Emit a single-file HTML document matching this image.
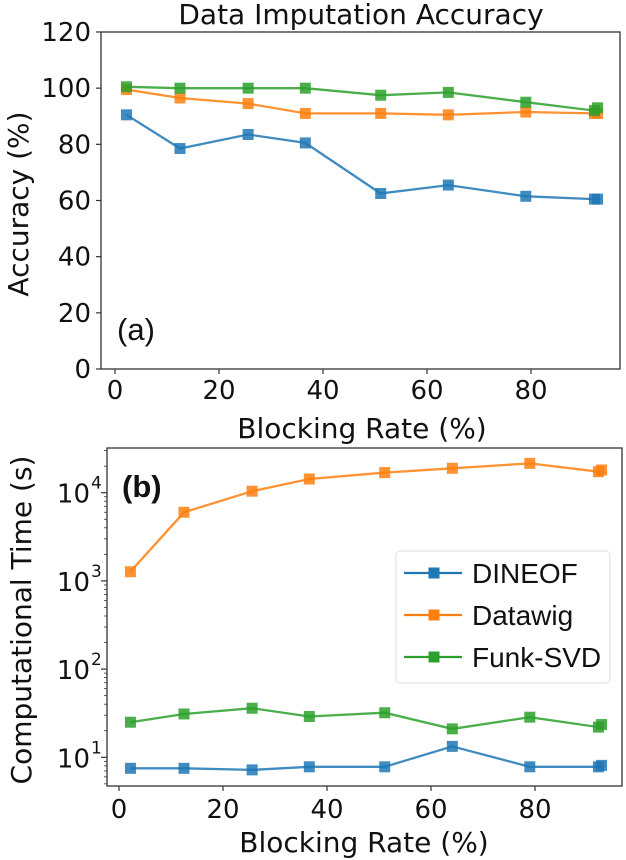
<!DOCTYPE html>
<html><head><meta charset="utf-8"><style>
html,body{margin:0;padding:0;background:#fff;}
svg{display:block;}
text{font-family:"DejaVu Sans","Liberation Sans",sans-serif;fill:#111;}
</style></head><body>
<svg id="chart" width="626" height="860" xmlns="http://www.w3.org/2000/svg"></svg>
<script>
const blockingRates = [2.2, 12.5, 25.6, 36.6, 51.1, 64.1, 79.0, 92.2, 92.8];
const accDineof = [90.5, 78.5, 83.5, 80.5, 62.5, 65.5, 61.5, 60.5, 60.5];
const accDatawig = [99.5, 96.5, 94.5, 91, 91, 90.5, 91.5, 91, 91];
const accFunk = [100.5, 100, 100, 100, 97.5, 98.5, 95, 92, 93];
const timeDineof = [7.5, 7.5, 7.2, 7.8, 7.8, 13.3, 7.8, 7.8, 8.1];
const timeDatawig = [1270, 6000, 10400, 14300, 16900, 18900, 21500, 17300, 18100];
const timeFunk = [25, 31, 36, 29, 32, 21, 28.5, 22, 23.5];
const xTicks = [0, 20, 40, 60, 80];
const accTicks = [0, 20, 40, 60, 80, 100, 120];
const logTicks = [1, 2, 3, 4];
const seriesNames = ["DINEOF", "Datawig", "Funk-SVD"];
const colors = ["#1f77b4", "#ff7f0e", "#2ca02c"];

const NS = "http://www.w3.org/2000/svg";
const svg = document.getElementById("chart");
function mk(tag, attrs, parent) {
  const e = document.createElementNS(NS, tag);
  for (const k in attrs) e.setAttribute(k, attrs[k]);
  (parent || svg).appendChild(e);
  return e;
}
const A = {l:101, r:620, t:32, b:369};
const B = {l:107, r:622, t:448, b:786};
const xA = v => 115 + v * 5.2;
const xB = v => 119 + v * 5.2;
const yA = v => A.b - v * (A.b - A.t) / 120;
const yB = v => 757.3 - (Math.log10(v) - 1) * 88.2;

// ---- Panel A ----
const gA = mk("g", {});


let t = mk("text", {x: 361, y: 24, "font-size": 28, "text-anchor": "middle"}, gA);
t.textContent = "Data Imputation Accuracy";


const frA = mk("rect", {x: A.l, y: A.t, width: A.r - A.l, height: A.b - A.t, fill: "none", stroke: "#333", "stroke-width": 1.3}, gA);


accTicks.forEach(v => {
  mk("line", {x1: A.l - 5, x2: A.l, y1: yA(v), y2: yA(v), stroke: "#333", "stroke-width": 1.2}, gA);
  const tl = mk("text", {x: A.l - 10, y: yA(v) + 9, "font-size": 26, "text-anchor": "end"}, gA);
  tl.textContent = v;
  
  
});
xTicks.forEach(v => {
  mk("line", {x1: xA(v), x2: xA(v), y1: A.b, y2: A.b + 5, stroke: "#333", "stroke-width": 1.2}, gA);
  const tl = mk("text", {x: xA(v), y: 399, "font-size": 26, "text-anchor": "middle"}, gA);
  tl.textContent = v;
  
  
});
t = mk("text", {x: 362, y: 438, "font-size": 28, "text-anchor": "middle"}, gA);
t.textContent = "Blocking Rate (%)";


t = mk("text", {x: 0, y: 0, "font-size": 28, "text-anchor": "middle", transform: "translate(28,204) rotate(-90)"}, gA);
t.textContent = "Accuracy (%)";


t = mk("text", {x: 117, y: 340, "font-size": 31, style: "font-family:'Liberation Sans',sans-serif"}, gA);
t.textContent = "(a)";



function drawSeries(g, xs, ys, xf, yf, color, name) {
  const pts = xs.map((x, i) => xf(x).toFixed(1) + "," + yf(ys[i]).toFixed(1)).join(" ");
  const pl = mk("polyline", {points: pts, fill: "none", stroke: color, "stroke-width": 2.3, "stroke-opacity": 0.85}, g);
  
  
  xs.forEach((x, i) => {
    const m = mk("rect", {x: xf(x) - 5.5, y: yf(ys[i]) - 5.5, width: 11, height: 11, fill: color, "fill-opacity": 0.85}, g);
    
    
  });
}
drawSeries(gA, blockingRates, accDineof, xA, yA, colors[0], "dineof-accuracy");
drawSeries(gA, blockingRates, accDatawig, xA, yA, colors[1], "datawig-accuracy");
drawSeries(gA, blockingRates, accFunk, xA, yA, colors[2], "funk-svd-accuracy");

// ---- Panel B ----
const gB = mk("g", {});


const frB = mk("rect", {x: B.l, y: B.t, width: B.r - B.l, height: B.b - B.t, fill: "none", stroke: "#333", "stroke-width": 1.3}, gB);


for (let d = 0; d <= 4; d++) {
  for (let m = 1; m <= 9; m++) {
    const v = m * Math.pow(10, d);
    const y = yB(v);
    if (y < B.t || y > B.b) continue;
    const major = m === 1;
    mk("line", {x1: B.l - (major ? 6 : 3), x2: B.l, y1: y, y2: y, stroke: "#333", "stroke-width": major ? 1.2 : 0.8}, gB);
  }
}
logTicks.forEach(p => {
  const y = yB(Math.pow(10, p));
  const tl = mk("text", {x: 90, y: y + 10, "font-size": 26, "text-anchor": "end"}, gB);
  tl.textContent = "10";
  
  
  const sp = mk("text", {x: 91, y: y - 4, "font-size": 17}, gB);
  sp.textContent = p;
  
  
});
xTicks.forEach(v => {
  mk("line", {x1: xB(v), x2: xB(v), y1: B.b, y2: B.b + 5, stroke: "#333", "stroke-width": 1.2}, gB);
  const tl = mk("text", {x: xB(v), y: 818, "font-size": 26, "text-anchor": "middle"}, gB);
  tl.textContent = v;
  
  
});
t = mk("text", {x: 364, y: 852, "font-size": 28, "text-anchor": "middle"}, gB);
t.textContent = "Blocking Rate (%)";


t = mk("text", {x: 0, y: 0, "font-size": 28, "text-anchor": "middle", transform: "translate(31,620) rotate(-90)"}, gB);
t.textContent = "Computational Time (s)";


t = mk("text", {x: 122, y: 497, "font-size": 31, "font-weight": "bold", style: "font-family:'Liberation Sans',sans-serif"}, gB);
t.textContent = "(b)";



drawSeries(gB, blockingRates, timeDineof, xB, yB, colors[0], "dineof-time");
drawSeries(gB, blockingRates, timeDatawig, xB, yB, colors[1], "datawig-time");
drawSeries(gB, blockingRates, timeFunk, xB, yB, colors[2], "funk-svd-time");

// legend
const lg = mk("g", {});


mk("rect", {x: 396, y: 551, width: 214, height: 132, rx: 4, fill: "#fff", stroke: "#ddd", "stroke-width": 1}, lg);
seriesNames.forEach((n, i) => {
  const y = 573 + i * 42;
  const e = mk("g", {}, lg);
  
  
  mk("line", {x1: 404, x2: 462, y1: y, y2: y, stroke: colors[i], "stroke-width": 2.3}, e);
  mk("rect", {x: 428.5, y: y - 5.5, width: 11, height: 11, fill: colors[i]}, e);
  const tx = mk("text", {x: 472, y: y + 10, "font-size": 28, style: "font-family:'Liberation Sans',sans-serif"}, e);
  tx.textContent = n;
});
</script>
</body></html>
